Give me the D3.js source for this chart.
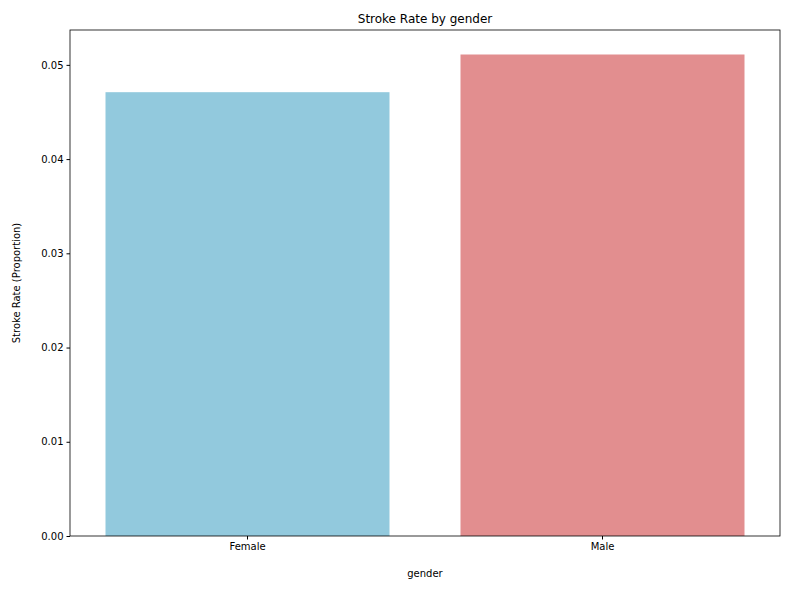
<!DOCTYPE html>
<html><head><meta charset="utf-8">
<script src="https://cdn.jsdelivr.net/npm/d3@7"></script>
<style>body{margin:0;background:#fff}</style>
</head><body>
<svg id="c" width="790" height="590"></svg>
<script>
const categories = ["Female", "Male"];
const values = [0.0471, 0.0511];
const colors = ["#92c9dd", "#e28e8f"];
const yTicks = [0, 0.01, 0.02, 0.03, 0.04, 0.05];

const svg = d3.select("#c");
const m = {l:70, r:10, t:30, b:54};
const W = 790, H = 590;
const x = d3.scaleBand().domain(categories).range([m.l, W-m.r]).paddingInner(0.2).paddingOuter(0.1);
const y = d3.scaleLinear().domain([0, 0.0537]).range([H-m.b, m.t]);
const font = "DejaVu Sans, sans-serif";

svg.selectAll("rect.bar").data(categories).join("rect")
  .attr("x", d => x(d)).attr("width", x.bandwidth())
  .attr("y", (d,i) => y(values[i])).attr("height", (d,i) => y(0) - y(values[i]))
  .attr("fill", (d,i) => colors[i]);

const ga = svg.append("g").attr("transform", `translate(0,${H-m.b})`)
  .call(d3.axisBottom(x).tickSizeOuter(0).tickSize(3.5));
const gy = svg.append("g").attr("transform", `translate(${m.l},0)`)
  .call(d3.axisLeft(y).tickValues(yTicks).tickFormat(d3.format(".2f")).tickSizeOuter(0).tickSize(3.5));
[ga, gy].forEach(g => {
  g.selectAll("text").attr("font-family", font).attr("font-size", 10).attr("fill", "#000");
  g.selectAll("line").attr("stroke", "#000");
  g.select(".domain").remove();
});
svg.append("rect").attr("x", m.l).attr("y", m.t).attr("width", W-m.l-m.r).attr("height", H-m.t-m.b)
  .attr("fill", "none").attr("stroke", "#000").attr("stroke-width", 0.8);

svg.append("text").attr("x", (m.l+W-m.r)/2).attr("y", 23).attr("text-anchor", "middle")
  .attr("font-family", font).attr("font-size", 12).text("Stroke Rate by gender");
svg.append("text").attr("x", (m.l+W-m.r)/2).attr("y", 577).attr("text-anchor", "middle")
  .attr("font-family", font).attr("font-size", 10).text("gender");
svg.append("text").attr("transform", `translate(20,${(m.t+H-m.b)/2}) rotate(-90)`).attr("text-anchor", "middle")
  .attr("font-family", font).attr("font-size", 10).text("Stroke Rate (Proportion)");
</script>
</body></html>
